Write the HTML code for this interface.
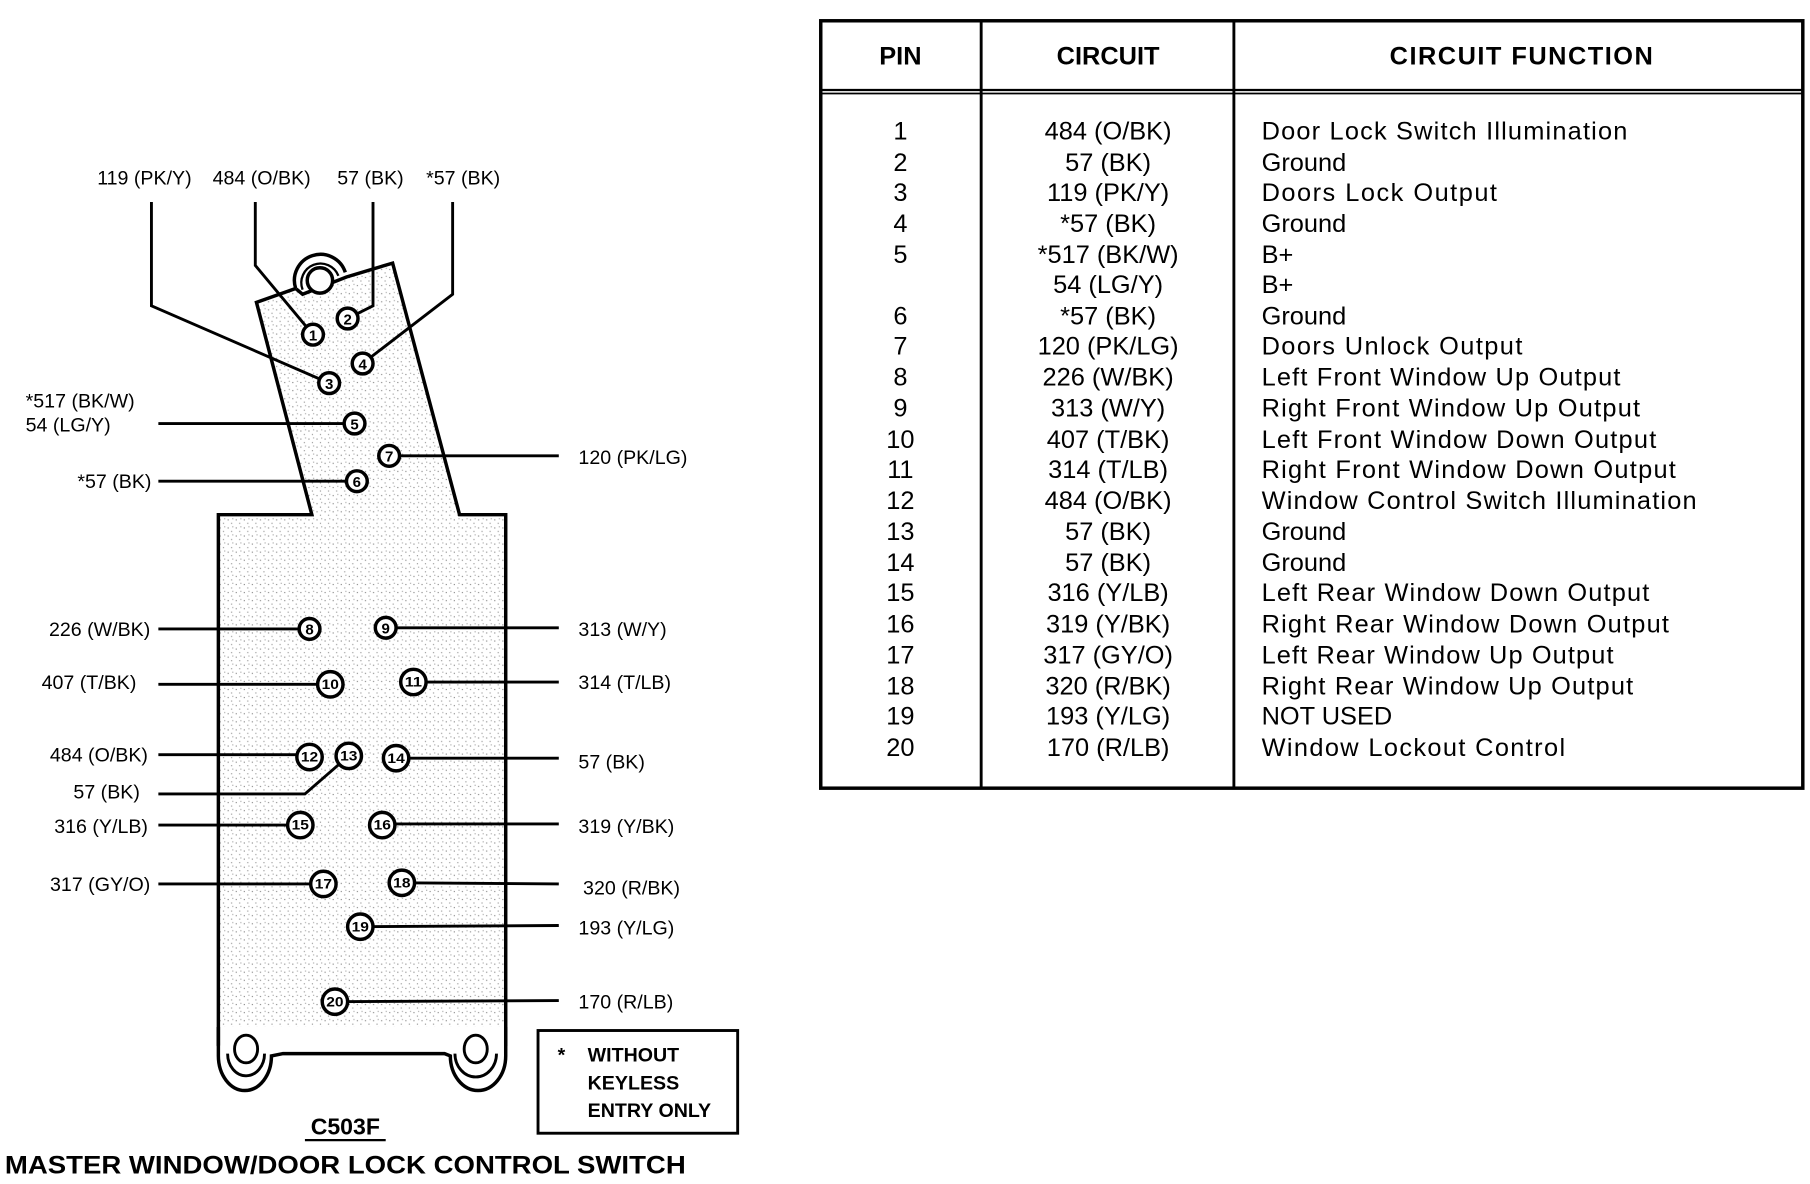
<!DOCTYPE html>
<html><head><meta charset="utf-8"><style>
html,body{margin:0;padding:0;background:#fff;}
svg{display:block;}
text{font-family:"Liberation Sans",Arial,sans-serif;fill:#000;}
</style></head><body>
<svg width="1810" height="1184" viewBox="0 0 1568 1026" xmlns="http://www.w3.org/2000/svg">
<defs>
<pattern id="dots" width="7" height="7" patternUnits="userSpaceOnUse">
<rect width="7" height="7" fill="#fff"/>
<rect x="1" y="2" width="1" height="1" fill="#888"/>
<rect x="4" y="5" width="1" height="1" fill="#999"/>
<rect x="5" y="1" width="1" height="1" fill="#aaa"/>
</pattern>
</defs>

<!-- TABLE -->
<g stroke="#000" fill="none">
<rect x="711" y="18" width="851" height="665" stroke-width="3"/>
<line x1="711" y1="78" x2="1562" y2="78" stroke-width="2"/>
<line x1="711" y1="81" x2="1562" y2="81" stroke-width="1.5"/>
<line x1="850" y1="18" x2="850" y2="683" stroke-width="2.5"/>
<line x1="1069" y1="18" x2="1069" y2="683" stroke-width="2.5"/>
</g>
<g font-weight="bold" font-size="22" text-anchor="middle">
<text x="780" y="56">PIN</text>
<text x="960" y="56">CIRCUIT</text>
<text x="1318" y="56" textLength="228">CIRCUIT FUNCTION</text>
</g>
<g font-size="22">
<g text-anchor="middle">
<text x="780" y="121">1</text><text x="960" y="121">484 (O/BK)</text>
<text x="780" y="148">2</text><text x="960" y="148">57 (BK)</text>
<text x="780" y="174">3</text><text x="960" y="174">119 (PK/Y)</text>
<text x="780" y="201">4</text><text x="960" y="201">*57 (BK)</text>
<text x="780" y="228">5</text><text x="960" y="228">*517 (BK/W)</text>
<text x="960" y="254">54 (LG/Y)</text>
<text x="780" y="281">6</text><text x="960" y="281">*57 (BK)</text>
<text x="780" y="307">7</text><text x="960" y="307">120 (PK/LG)</text>
<text x="780" y="334">8</text><text x="960" y="334">226 (W/BK)</text>
<text x="780" y="361">9</text><text x="960" y="361">313 (W/Y)</text>
<text x="780" y="388">10</text><text x="960" y="388">407 (T/BK)</text>
<text x="780" y="414">11</text><text x="960" y="414">314 (T/LB)</text>
<text x="780" y="441">12</text><text x="960" y="441">484 (O/BK)</text>
<text x="780" y="468">13</text><text x="960" y="468">57 (BK)</text>
<text x="780" y="495">14</text><text x="960" y="495">57 (BK)</text>
<text x="780" y="521">15</text><text x="960" y="521">316 (Y/LB)</text>
<text x="780" y="548">16</text><text x="960" y="548">319 (Y/BK)</text>
<text x="780" y="575">17</text><text x="960" y="575">317 (GY/O)</text>
<text x="780" y="602">18</text><text x="960" y="602">320 (R/BK)</text>
<text x="780" y="628">19</text><text x="960" y="628">193 (Y/LG)</text>
<text x="780" y="655">20</text><text x="960" y="655">170 (R/LB)</text>
</g>
<g>
<text x="1093" y="121" textLength="317">Door Lock Switch Illumination</text>
<text x="1093" y="148">Ground</text>
<text x="1093" y="174" textLength="204">Doors Lock Output</text>
<text x="1093" y="201">Ground</text>
<text x="1093" y="228">B+</text>
<text x="1093" y="254">B+</text>
<text x="1093" y="281">Ground</text>
<text x="1093" y="307" textLength="226">Doors Unlock Output</text>
<text x="1093" y="334" textLength="311">Left Front Window Up Output</text>
<text x="1093" y="361" textLength="328">Right Front Window Up Output</text>
<text x="1093" y="388" textLength="342">Left Front Window Down Output</text>
<text x="1093" y="414" textLength="359">Right Front Window Down Output</text>
<text x="1093" y="441" textLength="377">Window Control Switch Illumination</text>
<text x="1093" y="468">Ground</text>
<text x="1093" y="495">Ground</text>
<text x="1093" y="521" textLength="336">Left Rear Window Down Output</text>
<text x="1093" y="548" textLength="353">Right Rear Window Down Output</text>
<text x="1093" y="575" textLength="305">Left Rear Window Up Output</text>
<text x="1093" y="602" textLength="322">Right Rear Window Up Output</text>
<text x="1093" y="628">NOT USED</text>
<text x="1093" y="655" textLength="263">Window Lockout Control</text>
</g>
</g>

<!-- CONNECTOR BODY -->
<path d="M222,262 L256,250 L262,255 L300,240 L340,228 L398,446 L438,446 L438,905 L189,905 L189,446 L270,446 Z" fill="url(#dots)" stroke="#000" stroke-width="3" stroke-linejoin="miter"/>
<path d="M256,250 A21,21 0 1 1 299,236" fill="#fff" stroke="#000" stroke-width="3"/>
<path d="M262,251 A15,15 0 1 1 293,239" fill="none" stroke="#000" stroke-width="2"/>
<circle cx="277" cy="243" r="11" fill="#fff" stroke="#000" stroke-width="3"/>
<rect x="189" y="903" width="250" height="50" fill="#fff" stroke="none"/>
<path d="M189,890 L189,915 A23,30 0 0 0 235,915 L245,913 L385,913 L390,915 A24,30 0 0 0 438,915 L438,890" fill="#fff" stroke="#000" stroke-width="3"/>
<path d="M197,913 A15,18 0 0 0 229,913" fill="none" stroke="#000" stroke-width="2.5"/>
<path d="M394,913 A16,18 0 0 0 430,913" fill="none" stroke="#000" stroke-width="2.5"/>
<ellipse cx="213" cy="909" rx="10" ry="12" fill="#fff" stroke="#000" stroke-width="2.5"/>
<ellipse cx="412" cy="909" rx="10" ry="12" fill="#fff" stroke="#000" stroke-width="2.5"/>
<line x1="189" y1="890" x2="189" y2="906" stroke="#000" stroke-width="3"/>
<line x1="438" y1="890" x2="438" y2="906" stroke="#000" stroke-width="3"/>

<!-- WIRES -->
<g stroke="#000" stroke-width="2.5" fill="none">
<polyline points="131,175 131,265 285,332"/>
<polyline points="221,175 221,230 271,290"/>
<polyline points="323,175 323,265 301,276"/>
<polyline points="392,175 392,255 314,315"/>
<line x1="137" y1="367" x2="307" y2="367"/>
<line x1="137" y1="417" x2="309" y2="417"/>
<line x1="337" y1="395" x2="484" y2="395"/>
<line x1="137" y1="545" x2="268" y2="545"/>
<line x1="334" y1="544" x2="484" y2="544"/>
<line x1="137" y1="593" x2="286" y2="593"/>
<line x1="358" y1="591" x2="484" y2="591"/>
<line x1="137" y1="654" x2="268" y2="654"/>
<polyline points="137,688 264,688 302,655"/>
<line x1="343" y1="657" x2="484" y2="657"/>
<line x1="137" y1="715" x2="260" y2="715"/>
<line x1="331" y1="714" x2="484" y2="714"/>
<line x1="137" y1="766" x2="280" y2="766"/>
<line x1="348" y1="765" x2="484" y2="766"/>
<line x1="312" y1="803" x2="484" y2="802"/>
<line x1="290" y1="868" x2="484" y2="867"/>
</g>

<!-- PINS -->
<g stroke="#000" stroke-width="3" fill="#fff">
<circle cx="271" cy="290" r="9"/><circle cx="301" cy="276" r="9"/>
<circle cx="285" cy="332" r="9"/><circle cx="314" cy="315" r="9"/>
<circle cx="307" cy="367" r="9"/><circle cx="309" cy="417" r="9"/>
<circle cx="337" cy="395" r="9"/><circle cx="268" cy="545" r="9"/>
<circle cx="334" cy="544" r="9"/><circle cx="286" cy="593" r="11"/>
<circle cx="358" cy="591" r="11"/><circle cx="268" cy="656" r="11"/>
<circle cx="302" cy="655" r="11"/><circle cx="343" cy="657" r="11"/>
<circle cx="260" cy="715" r="11"/><circle cx="331" cy="715" r="11"/>
<circle cx="280" cy="766" r="11"/><circle cx="348" cy="765" r="11"/>
<circle cx="312" cy="803" r="11"/><circle cx="290" cy="868" r="11"/>
</g>
<g font-size="13" font-weight="bold" text-anchor="middle">
<text x="271" y="295">1</text><text x="301" y="281">2</text>
<text x="285" y="337">3</text><text x="314" y="320">4</text>
<text x="307" y="372">5</text><text x="309" y="422">6</text>
<text x="337" y="400">7</text><text x="268" y="550">8</text>
<text x="334" y="549">9</text>
<g font-size="12">
<text x="286" y="597" textLength="15" lengthAdjust="spacingAndGlyphs">10</text><text x="358" y="595" textLength="15" lengthAdjust="spacingAndGlyphs">11</text>
<text x="268" y="660" textLength="15" lengthAdjust="spacingAndGlyphs">12</text><text x="302" y="659" textLength="15" lengthAdjust="spacingAndGlyphs">13</text>
<text x="343" y="661" textLength="15" lengthAdjust="spacingAndGlyphs">14</text><text x="260" y="719" textLength="15" lengthAdjust="spacingAndGlyphs">15</text>
<text x="331" y="719" textLength="15" lengthAdjust="spacingAndGlyphs">16</text><text x="280" y="770" textLength="15" lengthAdjust="spacingAndGlyphs">17</text>
<text x="348" y="769" textLength="15" lengthAdjust="spacingAndGlyphs">18</text><text x="312" y="807" textLength="15" lengthAdjust="spacingAndGlyphs">19</text>
<text x="290" y="872" textLength="15" lengthAdjust="spacingAndGlyphs">20</text>
</g>
</g>

<!-- LABELS -->
<g font-size="17">
<text x="84" y="160">119 (PK/Y)</text>
<text x="184" y="160">484 (O/BK)</text>
<text x="292" y="160">57 (BK)</text>
<text x="369" y="160">*57 (BK)</text>
<text x="22" y="353">*517 (BK/W)</text>
<text x="22" y="374">54 (LG/Y)</text>
<g text-anchor="end">
<text x="131" y="423">*57 (BK)</text>
<text x="130" y="551">226 (W/BK)</text>
<text x="118" y="597">407 (T/BK)</text>
<text x="128" y="660">484 (O/BK)</text>
<text x="121" y="692">57 (BK)</text>
<text x="128" y="722">316 (Y/LB)</text>
<text x="130" y="772">317 (GY/O)</text>
</g>
<text x="501" y="402">120 (PK/LG)</text>
<text x="501" y="551">313 (W/Y)</text>
<text x="501" y="597">314 (T/LB)</text>
<text x="501" y="666">57 (BK)</text>
<text x="501" y="722">319 (Y/BK)</text>
<text x="505" y="775">320 (R/BK)</text>
<text x="501" y="810">193 (Y/LG)</text>
<text x="501" y="874">170 (R/LB)</text>
</g>

<!-- NOTE BOX -->
<rect x="466" y="893" width="173" height="89" fill="none" stroke="#000" stroke-width="2.5"/>
<g font-size="17" font-weight="bold">
<text x="483" y="920">*</text>
<text x="509" y="920">WITHOUT</text>
<text x="509" y="944">KEYLESS</text>
<text x="509" y="968">ENTRY ONLY</text>
</g>
<text x="299" y="983" font-size="20" font-weight="bold" text-anchor="middle">C503F</text>
<line x1="264" y1="988" x2="334" y2="988" stroke="#000" stroke-width="2"/>
<text x="4" y="1017" font-size="22" font-weight="bold" textLength="590" lengthAdjust="spacingAndGlyphs">MASTER WINDOW/DOOR LOCK CONTROL SWITCH</text>
</svg>
</body></html>
